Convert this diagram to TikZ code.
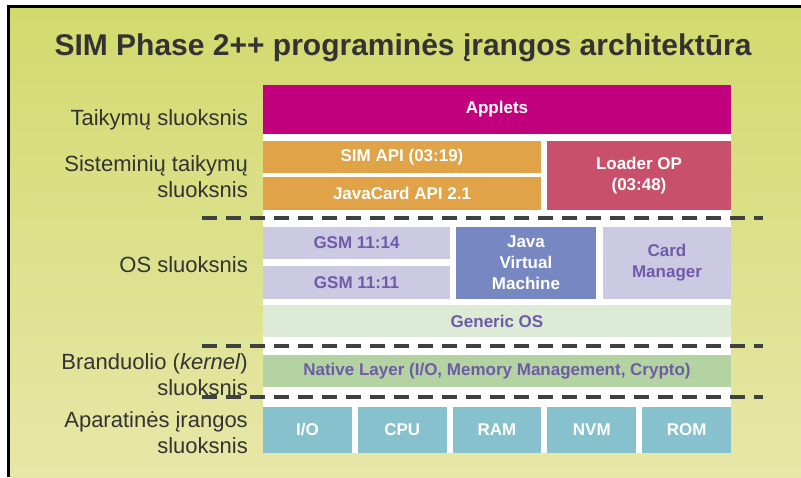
\documentclass[tikz,border=0pt]{standalone}
\usepackage{fontspec}
\setmainfont{Liberation Sans}
\usetikzlibrary{calc}

\definecolor{bgtop}{HTML}{D2DA6E}
\definecolor{bgbot}{HTML}{E7E7A8}
\definecolor{applet}{HTML}{C2007E}
\definecolor{orng}{HTML}{E0A347}
\definecolor{loadr}{HTML}{C9506A}
\definecolor{lav}{HTML}{CCC9E2}
\definecolor{jvmc}{HTML}{7787C2}
\definecolor{genc}{HTML}{DCEAD6}
\definecolor{natc}{HTML}{B3D3A3}
\definecolor{hwc}{HTML}{86C1CD}
\definecolor{purp}{HTML}{6F5BA8}
\definecolor{dashc}{HTML}{404040}
\definecolor{txtc}{HTML}{333333}

\begin{document}
\begin{tikzpicture}[x=1pt,y=-1pt,
    blk/.style={rectangle,inner sep=0pt,draw=none,align=center,
      font=\fontsize{17}{21}\selectfont\bfseries},
    wtxt/.style={blk,text=white},
    ptxt/.style={blk,text=purp},
    lbl/.style={inner sep=0pt,align=right,text=txtc,
      font=\fontsize{22}{26}\selectfont},
    sep/.style={dashc,line width=3.5pt,dash pattern=on 15pt off 9pt}]
  \useasboundingbox (0,0) rectangle (801,477);
  \fill[white] (0,0) rectangle (801,477);
  \shade[top color=bgtop,bottom color=bgbot] (10,8) rectangle (801,477);
  \draw[line width=3pt] (8.5,477) -- (8.5,6.3) -- (801,6.3);

  \node[font=\fontsize{30}{36}\selectfont\bfseries,text=txtc,anchor=base] (title)
    at (403,55) {SIM Phase 2++ programinės įrangos architektūra};

  % white panel behind the stack
  \fill[white] (263,85) rectangle (731,453);

  % application layers
  \node[wtxt,fill=applet,minimum width=468,minimum height=49] (applets) at (497,109.5) {Applets};
  \node[wtxt,fill=orng,minimum width=278,minimum height=32] (simapi) at (402,157) {SIM API (03:19)};
  \node[wtxt,fill=orng,minimum width=278,minimum height=33] (jcapi) at (402,193.5) {JavaCard API 2.1};
  \node[wtxt,fill=loadr,minimum width=184,minimum height=69] (loader) at (639,175.5) {Loader OP\\(03:48)};

  % OS layer
  \node[ptxt,fill=lav,minimum width=187,minimum height=32] (gsma) at (356.5,243) {GSM 11:14};
  \node[ptxt,fill=lav,minimum width=187,minimum height=33] (gsmb) at (356.5,282.5) {GSM 11:11};
  \node[wtxt,fill=jvmc,minimum width=140,minimum height=72] (jvm) at (526,263) {Java\\Virtual\\Machine};
  \node[ptxt,fill=lav,minimum width=128,minimum height=72] (cardmgr) at (667,263) {Card\\Manager};
  \node[ptxt,fill=genc,minimum width=468,minimum height=32] (genos) at (497,321) {Generic OS};

  % kernel layer
  \node[ptxt,fill=natc,minimum width=468,minimum height=32] (native) at (497,371) {Native Layer (I/O, Memory Management, Crypto)};

  % hardware layer
  \foreach \hw [count=\i from 0] in {I/O,CPU,RAM,NVM,ROM} {
    \node[wtxt,fill=hwc,minimum width=88.8,minimum height=46] (hw\i) at ({263+44.4+\i*94.8},430) {\hw};
  }

  % layer names
  \node[lbl,anchor=base east] (lapp) at (248,125) {Taikymų sluoksnis};
  \node[lbl,anchor=east] (lsys) at (248,177) {Sisteminių taikymų\\sluoksnis};
  \node[lbl,anchor=base east] (los) at (248,272) {OS sluoksnis};
  \node[lbl,anchor=east] (lker) at (248,375) {Branduolio (\textit{kernel})\\sluoksnis};
  \node[lbl,anchor=east] (lhw) at (248,433) {Aparatinės įrangos\\sluoksnis};

  % layer borders
  \foreach \yy/\nm in {218/sa,346/sb,397/sc} {
    \coordinate (\nm w) at (202,\yy);
    \coordinate (\nm e) at (763,\yy);
    \draw[sep] (\nm w) -- (\nm e);
  }
\end{tikzpicture}
\end{document}
